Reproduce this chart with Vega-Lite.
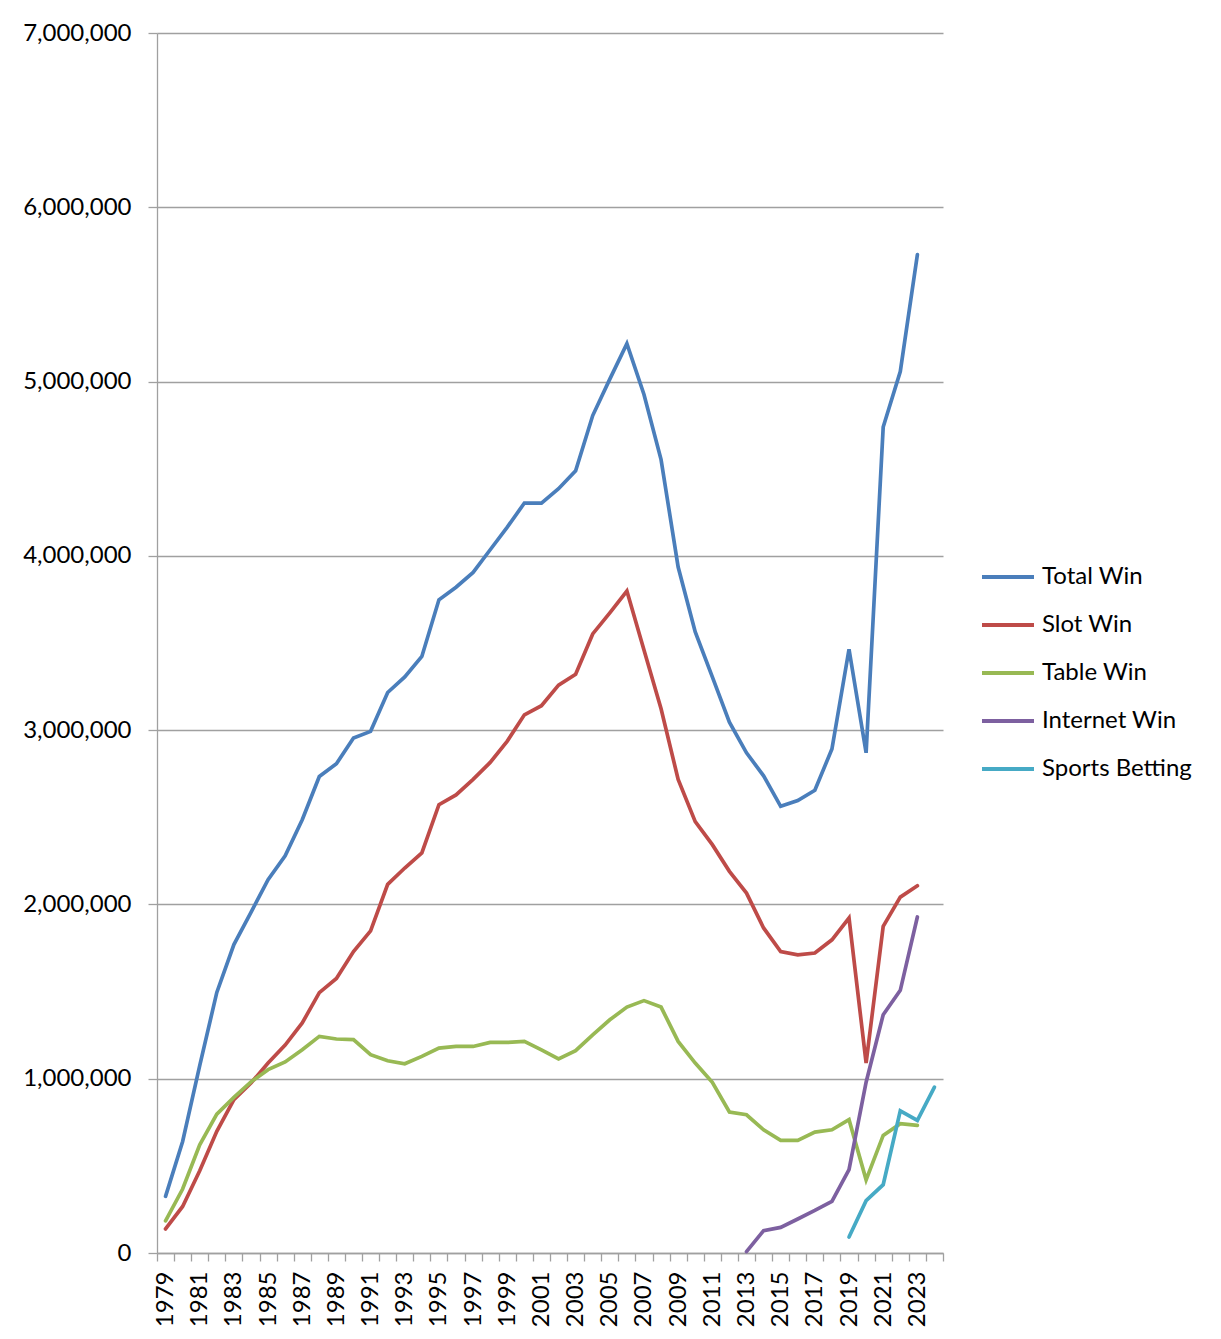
{
  "$schema": "https://vega.github.io/schema/vega-lite/v6.json",
  "width": 786,
  "height": 1220,
  "autosize": {"type": "none"},
  "padding": {"left": 157, "top": 33, "right": 278, "bottom": 86},
  "background": "white",
  "config": {"view": {"stroke": null}, "font": "Lato"},
  "data": {
    "values": [
      {"year": 1979, "Total Win": 325000, "Slot Win": 138000, "Table Win": 185000},
      {"year": 1980, "Total Win": 640000, "Slot Win": 267000, "Table Win": 367000},
      {"year": 1981, "Total Win": 1075000, "Slot Win": 472000, "Table Win": 621000},
      {"year": 1982, "Total Win": 1495000, "Slot Win": 698000, "Table Win": 797000},
      {"year": 1983, "Total Win": 1770000, "Slot Win": 880000, "Table Win": 893000},
      {"year": 1984, "Total Win": 1955000, "Slot Win": 975000, "Table Win": 982000},
      {"year": 1985, "Total Win": 2142000, "Slot Win": 1090000, "Table Win": 1052000},
      {"year": 1986, "Total Win": 2279000, "Slot Win": 1193000, "Table Win": 1096000},
      {"year": 1987, "Total Win": 2486000, "Slot Win": 1320000, "Table Win": 1166000},
      {"year": 1988, "Total Win": 2734000, "Slot Win": 1494000, "Table Win": 1243000},
      {"year": 1989, "Total Win": 2807000, "Slot Win": 1575000, "Table Win": 1228000},
      {"year": 1990, "Total Win": 2955000, "Slot Win": 1730000, "Table Win": 1224000},
      {"year": 1991, "Total Win": 2993000, "Slot Win": 1848000, "Table Win": 1138000},
      {"year": 1992, "Total Win": 3216000, "Slot Win": 2115000, "Table Win": 1103000},
      {"year": 1993, "Total Win": 3305000, "Slot Win": 2209000, "Table Win": 1086000},
      {"year": 1994, "Total Win": 3423000, "Slot Win": 2296000, "Table Win": 1128000},
      {"year": 1995, "Total Win": 3748000, "Slot Win": 2572000, "Table Win": 1176000},
      {"year": 1996, "Total Win": 3820000, "Slot Win": 2628000, "Table Win": 1185000},
      {"year": 1997, "Total Win": 3905000, "Slot Win": 2718000, "Table Win": 1185000},
      {"year": 1998, "Total Win": 4035000, "Slot Win": 2815000, "Table Win": 1208000},
      {"year": 1999, "Total Win": 4165000, "Slot Win": 2937000, "Table Win": 1208000},
      {"year": 2000, "Total Win": 4303000, "Slot Win": 3088000, "Table Win": 1214000},
      {"year": 2001, "Total Win": 4303000, "Slot Win": 3140000, "Table Win": 1165000},
      {"year": 2002, "Total Win": 4385000, "Slot Win": 3258000, "Table Win": 1114000},
      {"year": 2003, "Total Win": 4488000, "Slot Win": 3321000, "Table Win": 1161000},
      {"year": 2004, "Total Win": 4805000, "Slot Win": 3552000, "Table Win": 1252000},
      {"year": 2005, "Total Win": 5014000, "Slot Win": 3673000, "Table Win": 1338000},
      {"year": 2006, "Total Win": 5218000, "Slot Win": 3798000, "Table Win": 1411000},
      {"year": 2007, "Total Win": 4926000, "Slot Win": 3460000, "Table Win": 1448000},
      {"year": 2008, "Total Win": 4552000, "Slot Win": 3123000, "Table Win": 1411000},
      {"year": 2009, "Total Win": 3936000, "Slot Win": 2717000, "Table Win": 1214000},
      {"year": 2010, "Total Win": 3563000, "Slot Win": 2475000, "Table Win": 1090000},
      {"year": 2011, "Total Win": 3306000, "Slot Win": 2343000, "Table Win": 979000},
      {"year": 2012, "Total Win": 3046000, "Slot Win": 2190000, "Table Win": 809000},
      {"year": 2013, "Total Win": 2870000, "Slot Win": 2065000, "Table Win": 793000, "Internet Win": 8000},
      {"year": 2014, "Total Win": 2738000, "Slot Win": 1865000, "Table Win": 707000, "Internet Win": 128000},
      {"year": 2015, "Total Win": 2563000, "Slot Win": 1730000, "Table Win": 646000, "Internet Win": 147000},
      {"year": 2016, "Total Win": 2596000, "Slot Win": 1711000, "Table Win": 646000, "Internet Win": 195000},
      {"year": 2017, "Total Win": 2655000, "Slot Win": 1721000, "Table Win": 694000, "Internet Win": 244000},
      {"year": 2018, "Total Win": 2892000, "Slot Win": 1797000, "Table Win": 707000, "Internet Win": 296000},
      {"year": 2019, "Total Win": 3464000, "Slot Win": 1922000, "Table Win": 765000, "Internet Win": 478000, "Sports Betting": 92000},
      {"year": 2020, "Total Win": 2870000, "Slot Win": 1090000, "Table Win": 420000, "Internet Win": 980000, "Sports Betting": 300000},
      {"year": 2021, "Total Win": 4739000, "Slot Win": 1874000, "Table Win": 675000, "Internet Win": 1367000, "Sports Betting": 392000},
      {"year": 2022, "Total Win": 5057000, "Slot Win": 2042000, "Table Win": 742000, "Internet Win": 1507000, "Sports Betting": 816000},
      {"year": 2023, "Total Win": 5728000, "Slot Win": 2107000, "Table Win": 732000, "Internet Win": 1928000, "Sports Betting": 761000},
      {"year": 2024, "Sports Betting": 952000}
    ]
  },
  "transform": [
    {"fold": ["Total Win", "Slot Win", "Table Win", "Internet Win", "Sports Betting"], "as": ["series", "value"]},
    {"filter": "isValid(datum.value)"}
  ],
  "mark": {"type": "line", "strokeWidth": 3.7, "strokeCap": "round", "strokeJoin": "miter"},
  "encoding": {
    "x": {
      "field": "year",
      "type": "ordinal",
      "scale": {"type": "band", "paddingInner": 0, "paddingOuter": 0},
      "bandPosition": 0.5,
      "axis": {
        "title": null,
        "tickBand": "extent",
        "labelAngle": -90,
        "labelExpr": "datum.value % 2 == 1 ? datum.label : ''",
        "labelOverlap": false,
        "labelFontSize": 24,
        "labelFont": "Lato",
        "labelColor": "#000000",
        "labelPadding": 10,
        "tickSize": 8,
        "tickColor": "#a0a0a0",
        "tickWidth": 1.3,
        "domainColor": "#a0a0a0",
        "domainWidth": 1.3,
        "grid": false
      }
    },
    "y": {
      "field": "value",
      "type": "quantitative",
      "scale": {"domain": [0, 7000000], "nice": false},
      "axis": {
        "title": null,
        "values": [0, 1000000, 2000000, 3000000, 4000000, 5000000, 6000000, 7000000],
        "format": ",d",
        "tickSize": 9,
        "labelPadding": 17,
        "labelFontSize": 24,
        "labelFont": "Lato",
        "labelColor": "#000000",
        "grid": true,
        "gridColor": "#a0a0a0",
        "gridWidth": 1.3,
        "domainColor": "#a0a0a0",
        "domainWidth": 1.3,
        "tickColor": "#a0a0a0",
        "tickWidth": 1.3
      }
    },
    "color": {
      "field": "series",
      "type": "nominal",
      "scale": {
        "domain": ["Total Win", "Slot Win", "Table Win", "Internet Win", "Sports Betting"],
        "range": ["#4a7ebb", "#be4b48", "#98b954", "#7d60a0", "#46aac5"]
      },
      "legend": {
        "title": null,
        "orient": "none",
        "legendX": 823,
        "legendY": 516,
        "symbolType": "stroke",
        "symbolSize": 2704,
        "symbolStrokeWidth": 4,
        "labelFontSize": 24,
        "labelFont": "Lato",
        "labelColor": "#000000",
        "labelOffset": 6,
        "rowPadding": 8
      }
    }
  }
}
